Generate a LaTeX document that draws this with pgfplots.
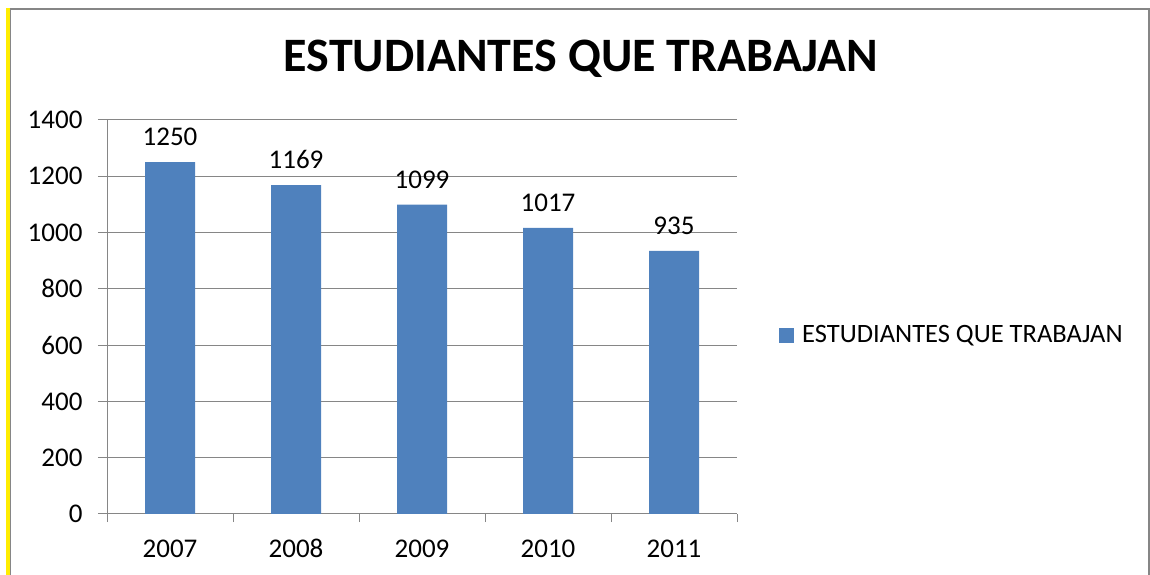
\documentclass[border=0pt]{standalone}
\usepackage{pgfplots}
\pgfplotsset{compat=1.18}
\usepackage{fontspec}
\setmainfont{Carlito}
\definecolor{barblue}{HTML}{4F81BD}
\definecolor{gridgray}{HTML}{868686}
\begin{document}
\begin{tikzpicture}[x=1pt,y=1pt]
\path[use as bounding box] (0,0) rectangle (1150,575);
\fill[yellow!95!orange] (6,0) rectangle (10,567);
\draw[gridgray,line width=1.5pt] (10.5,-5) -- (10.5,566) -- (1149,566) -- (1149,-5);
\begin{axis}[
  at={(107pt,61pt)}, anchor=south west,
  scale only axis, width=630pt, height=394pt,
  xmin=-0.5, xmax=4.5, ymin=0, ymax=1400,
  ytick={0,200,...,1400},
  xtick={0,1,2,3,4},
  xticklabels={2007,2008,2009,2010,2011},
  major x tick style={draw=none},
  extra x ticks={-0.5,0.5,1.5,2.5,3.5,4.5},
  extra x tick labels={},
  extra x tick style={major tick length=8pt, major x tick style={draw=gridgray, line width=1pt}, grid=none},
  axis x line*=bottom, axis y line*=left,
  axis line style={gridgray,line width=1pt,-},
  tick align=outside, major tick length=9pt,
  tick style={gridgray,line width=1pt},
  ymajorgrids, grid style={gridgray,line width=1pt},
  /pgf/number format/assume math mode=true,
  /pgf/number format/1000 sep={},
  tick label style={font=\fontsize{27}{32}\selectfont, black},
  yticklabel style={xshift=-12pt},
  xticklabel style={yshift=-25pt, text height=0.63em, text depth=0pt},
  ybar, bar width=50pt,
  nodes near coords,
  nodes near coords style={font=\fontsize{27}{32}\selectfont, black, yshift=13pt, text height=0.63em, text depth=0pt},
  legend style={at={(1.0667,0.454)}, anchor=west, draw=none, fill=none,
    font=\fontsize{26.5}{32}\selectfont, inner sep=0pt,
    /tikz/every even column/.append style={column sep=0pt}},
  legend image code/.code={\fill[#1] (0pt,-7.5pt) rectangle (15pt,7.5pt);},
  legend cell align=left,
  clip=false,
]
\addplot[fill=barblue, draw=none] coordinates {(0,1250) (1,1169) (2,1099) (3,1017) (4,935)};
\addlegendentry{\hspace{6pt}ESTUDIANTES QUE TRABAJAN}
\end{axis}
\node[font=\fontsize{48}{52}\selectfont\bfseries] at (581,516) {ESTUDIANTES QUE TRABAJAN};
\end{tikzpicture}
\end{document}
